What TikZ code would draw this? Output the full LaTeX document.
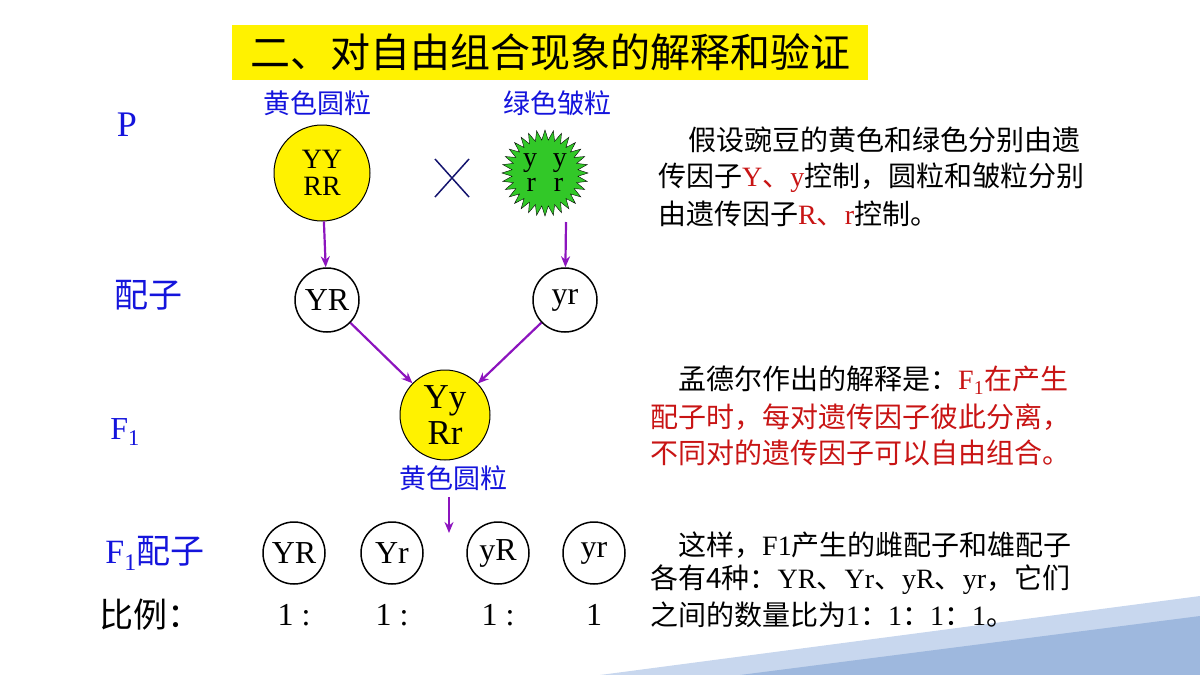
\documentclass[tikz,border=0pt]{standalone}
\usepackage{fontspec}
\setmainfont{Liberation Serif}
\newfontfamily\cjk{Noto Sans CJK SC}
\usetikzlibrary{shapes.geometric,arrows.meta}
\definecolor{tblue}{RGB}{20,20,220}
\definecolor{tred}{RGB}{200,20,20}
\definecolor{purp}{RGB}{140,20,190}
\begin{document}
\begin{tikzpicture}[x=1pt,y=-1pt,
  lab/.style={text=tblue,font=\cjk\fontsize{27}{29}\selectfont,inner sep=0},
  big/.style={text=tblue,font=\fontsize{36}{38}\selectfont,inner sep=0},
  gam/.style={circle,draw,line width=1.5pt,minimum size=64pt,inner sep=0,font=\fontsize{32}{34}\selectfont},
  arr/.style={-{Stealth[length=11pt,width=9pt]},draw=purp,line width=2.2pt},
  para/.style={anchor=west,inner sep=0,font=\cjk\fontsize{28}{30}\selectfont}]
\useasboundingbox (0,0) rectangle (1200,675);
\fill[fill={rgb,255:red,200;green,215;blue,238}] (600,675) -- (1200,596) -- (1200,675) -- cycle;
\fill[fill={rgb,255:red,158;green,184;blue,222}] (740,675) -- (1200,616) -- (1200,675) -- cycle;
\node[fill=yellow,minimum width=636pt,minimum height=55pt,inner sep=0,font=\cjk\fontsize{40}{42}\selectfont] (title) at (550,52) {二、对自由组合现象的解释和验证};
\node[big] (p) at (127,125) {P};
\node[lab] (l1) at (317,103) {黄色圆粒};
\node[lab] (l2) at (557,103) {绿色皱粒};
\node[circle,draw,fill=yellow,line width=1pt,minimum size=96pt,inner sep=0,align=center,font=\fontsize{28}{27}\selectfont] (pa) at (322,173) {YY\\RR};
\node[star,star points=32,star point ratio=1.3,draw,fill={rgb,255:red,50;green,200;blue,40},minimum size=86pt,inner sep=0,align=center,font=\fontsize{28}{25}\selectfont] (pb) at (545,173) {y\hspace{16pt}y\\r\hspace{18pt}r};
\coordinate (xc) at (452,178);
\draw[draw={rgb,255:red,20;green,20;blue,110},line width=1.5pt] ([shift={(-17,-19)}]xc) -- ([shift={(17,19)}]xc) ([shift={(17,-19)}]xc) -- ([shift={(-17,19)}]xc);
\node[lab,font=\cjk\fontsize{34}{36}\selectfont] (pz) at (148,295) {配子};
\node[gam] (g1) at (327,300) {YR};
\node[gam] (g2) at (565,300) {yr};
\draw[arr] (pa) -- (g1);
\draw[arr] (566,222) -- (g2);
\node[circle,draw,fill=yellow,line width=1pt,minimum size=90pt,inner sep=0,align=center,font=\fontsize{35}{36}\selectfont] (f1) at (445,415) {Yy\\Rr};
\draw[arr] (g1) -- (f1);
\draw[arr] (g2) -- (f1);
\node[big,font=\fontsize{32}{34}\selectfont] (f1l) at (125,432) {F\textsubscript{1}};
\node[lab] (l3) at (453,478) {黄色圆粒};
\coordinate (a3) at (449,497);
\node[big,font=\cjk\fontsize{34}{36}\selectfont] (f1g) at (155,553) {{\fontspec{Liberation Serif}F\textsubscript{1}}配子};
\node[gam,minimum size=62pt] (h1) at (294,553) {YR};
\node[gam,minimum size=62pt] (h2) at (392,553) {Yr};
\node[gam,minimum size=62pt] (h3) at (498,553) {yR};
\node[gam,minimum size=62pt] (h4) at (594,553) {yr};
\draw[arr] (a3) -- (449,533);
\node[inner sep=0,font=\cjk\fontsize{34}{36}\selectfont] (bl) at (150,615) {比例：};
\foreach \x/\t in {294/{1 :},392/{1 :},498/{1 :},594/{1}}
  \node[inner sep=0,font=\fontsize{32}{34}\selectfont] at (\x,615) {\t};
\newcommand\lat[1]{{\fontspec{Liberation Serif}#1}}
\node[para] (t1) at (688,140) {假设豌豆的黄色和绿色分别由遗};
\node[para] (t2) at (658,178) {传因子\textcolor{tred}{\lat{Y}、\lat{y}}控制，圆粒和皱粒分别};
\node[para] (t3) at (658,214) {由遗传因子\textcolor{tred}{\lat{R}、\lat{r}}控制。};
\node[para] (s1) at (678,380) {孟德尔作出的解释是：\textcolor{tred}{\lat{F\textsubscript{1}}在产生}};
\node[para,text=tred] (s2) at (650,417) {配子时，每对遗传因子彼此分离，};
\node[para,text=tred] (s3) at (650,453) {不同对的遗传因子可以自由组合。};
\node[para] (u1) at (678,545) {这样，\lat{F1}产生的雌配子和雄配子};
\node[para] (u2) at (650,580) {各有4种：\lat{YR}、\lat{Yr}、\lat{yR}、\lat{yr}，它们};
\node[para] (u3) at (650,615) {之间的数量比为\lat{1}：\lat{1}：\lat{1}：\lat{1}。};
\end{tikzpicture}
\end{document}
